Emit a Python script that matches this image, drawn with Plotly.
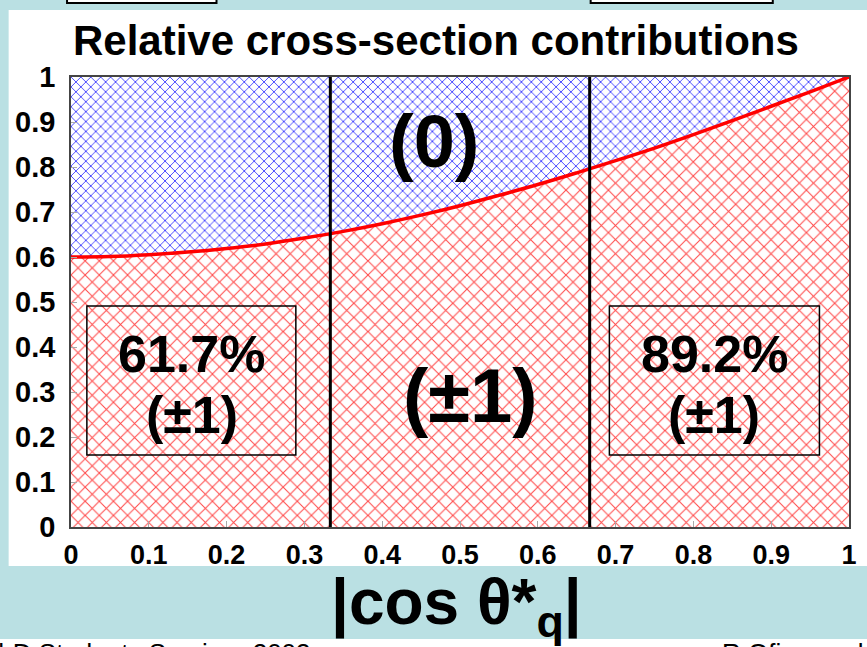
import plotly.graph_objects as go

# |cos theta*_q| sampling and transverse (±1) fraction of the cross section
cos_theta = [0.0, 0.05, 0.1, 0.15, 0.2, 0.25, 0.3, 0.35, 0.4, 0.45, 0.5,
             0.55, 0.6, 0.65, 0.7, 0.75, 0.8, 0.85, 0.9, 0.95, 1.0]
frac_pm1 = [0.600, 0.601, 0.605, 0.611, 0.619, 0.629, 0.642, 0.657, 0.674,
            0.693, 0.714, 0.737, 0.761, 0.787, 0.814, 0.842, 0.872, 0.903,
            0.935, 0.967, 1.000]
frac_total = [1.0] * len(cos_theta)

# bin boundaries and integrated transverse fractions
bin_edges = [1 / 3, 2 / 3]
box_labels = ["61.7%", "89.2%"]
x_ticks = [0, 0.1, 0.2, 0.3, 0.4, 0.5, 0.6, 0.7, 0.8, 0.9, 1]
x_tick_text = ["0", "0.1", "0.2", "0.3", "0.4", "0.5", "0.6", "0.7", "0.8", "0.9", "1"]
y_ticks = [0, 0.1, 0.2, 0.3, 0.4, 0.5, 0.6, 0.7, 0.8, 0.9, 1]
y_tick_text = ["0", "0.1", "0.2", "0.3", "0.4", "0.5", "0.6", "0.7", "0.8", "0.9", "1"]

W, H = 867, 647
L, R, T, B = 71, 10, 77, 120
PW, PH = W - L - R, H - T - B


def px(x):
    return (x - L) / PW


def py(y):
    return (H - B - y) / PH


FONT = "Liberation Sans, Arial, Helvetica, sans-serif"
SKY = "#bae0e3"

fig = go.Figure()

# (±1) region: red cross-hatch under the curve
fig.add_trace(go.Scatter(
    x=cos_theta, y=frac_pm1, mode="lines", line=dict(width=0, color="red"),
    fill="tozeroy", fillcolor="rgba(0,0,0,0)",
    fillpattern=dict(shape="x", fgcolor="#ff2a2a", fgopacity=0.85,
                     bgcolor="white", size=10, solidity=0.2),
    hoverinfo="skip", showlegend=False))

# (0) region: blue cross-hatch between the curve and 1
fig.add_trace(go.Scatter(
    x=cos_theta, y=frac_total, mode="lines", line=dict(width=0, color="blue"),
    fill="tonexty", fillcolor="rgba(0,0,0,0)",
    fillpattern=dict(shape="x", fgcolor="#2a2aff", fgopacity=0.85,
                     bgcolor="white", size=7, solidity=0.26),
    hoverinfo="skip", showlegend=False))

# boundary curve
fig.add_trace(go.Scatter(
    x=cos_theta, y=frac_pm1, mode="lines", line=dict(width=3.5, color="#ff0000"),
    line_shape="spline", hoverinfo="skip", showlegend=False))

shapes = []
# white panel behind the plot
shapes.append(dict(type="rect", xref="paper", yref="paper", layer="below",
                   x0=px(8), x1=px(880), y0=py(566), y1=py(10),
                   fillcolor="white", line=dict(width=0)))
# footer band
shapes.append(dict(type="rect", xref="paper", yref="paper", layer="below",
                   x0=px(-10), x1=px(880), y0=py(660), y1=py(639),
                   fillcolor="white", line=dict(width=0)))
# header boxes
for a, b in [(67, 218), (596, 780)]:
    shapes.append(dict(type="rect", xref="paper", yref="paper", layer="below",
                       x0=px(a), x1=px(b), y0=py(3), y1=py(-10),
                       fillcolor="white", line=dict(width=2, color="black")))
# bin boundaries
for e in bin_edges:
    shapes.append(dict(type="line", xref="x", yref="y", x0=e, x1=e, y0=0, y1=1,
                       line=dict(width=3, color="black")))
# boxes around bin fractions
for x0, x1 in [(0.0204, 0.289), (0.692, 0.962)]:
    shapes.append(dict(type="rect", xref="x", yref="y", x0=x0, x1=x1,
                       y0=0.16, y1=0.491, line=dict(width=1.5, color="black")))

annotations = []
bold = dict(family=FONT, color="black", weight="bold")
for xc, lab in zip([0.155, 0.827], box_labels):
    annotations.append(dict(x=xc, y=0.385, xref="x", yref="y", text=lab,
                            showarrow=False, font=dict(size=52, **bold)))
    annotations.append(dict(x=xc, y=0.25, xref="x", yref="y", text="(±1)",
                            showarrow=False, font=dict(size=52, **bold)))
annotations.append(dict(x=0.466, y=0.857, xref="x", yref="y", text="(0)",
                        showarrow=False, font=dict(size=74, **bold)))
annotations.append(dict(x=0.513, y=0.293, xref="x", yref="y", text="(±1)",
                        showarrow=False, font=dict(size=76, **bold)))
# title
annotations.append(dict(x=px(440), y=py(40), xref="paper", yref="paper",
                        xanchor="center", yanchor="middle",
                        text="Relative cross-section contributions",
                        showarrow=False, font=dict(size=42, **bold)))
# axis title
annotations.append(dict(x=px(460), y=py(606), xref="paper", yref="paper",
                        xanchor="center", yanchor="middle",
                        text="|cos θ*<sub>q</sub>|",
                        showarrow=False, font=dict(size=64, **bold)))
# footer
annotations.append(dict(x=px(-22), y=py(636), xref="paper", yref="paper",
                        xanchor="left", yanchor="top",
                        text="PhD Students Seminar 2003", showarrow=False,
                        font=dict(family=FONT, size=26, color="black")))
annotations.append(dict(x=px(727), y=py(636), xref="paper", yref="paper",
                        xanchor="left", yanchor="top",
                        text="R.Ofierzynski", showarrow=False,
                        font=dict(family=FONT, size=26, color="black")))

axis_common = dict(
    range=[0, 1], showgrid=False, zeroline=False,
    showline=True, linecolor="#444444", linewidth=1.5, mirror=True,
    ticks="inside", ticklen=6, tickcolor="#aaaaaa", tickwidth=1,
    tickmode="array",
)

fig.update_layout(
    width=W, height=H,
    margin=dict(l=L, r=R, t=T, b=B, pad=0),
    paper_bgcolor=SKY, plot_bgcolor="white",
    xaxis=dict(tickvals=x_ticks, ticktext=x_tick_text, ticklabelstandoff=3,
               tickfont=dict(size=27, **bold), **axis_common),
    yaxis=dict(tickvals=y_ticks, ticktext=y_tick_text, ticklabelstandoff=8,
               tickfont=dict(size=29, **bold), **axis_common),
    shapes=shapes, annotations=annotations,
    showlegend=False,
)

fig.write_html("out.html")
